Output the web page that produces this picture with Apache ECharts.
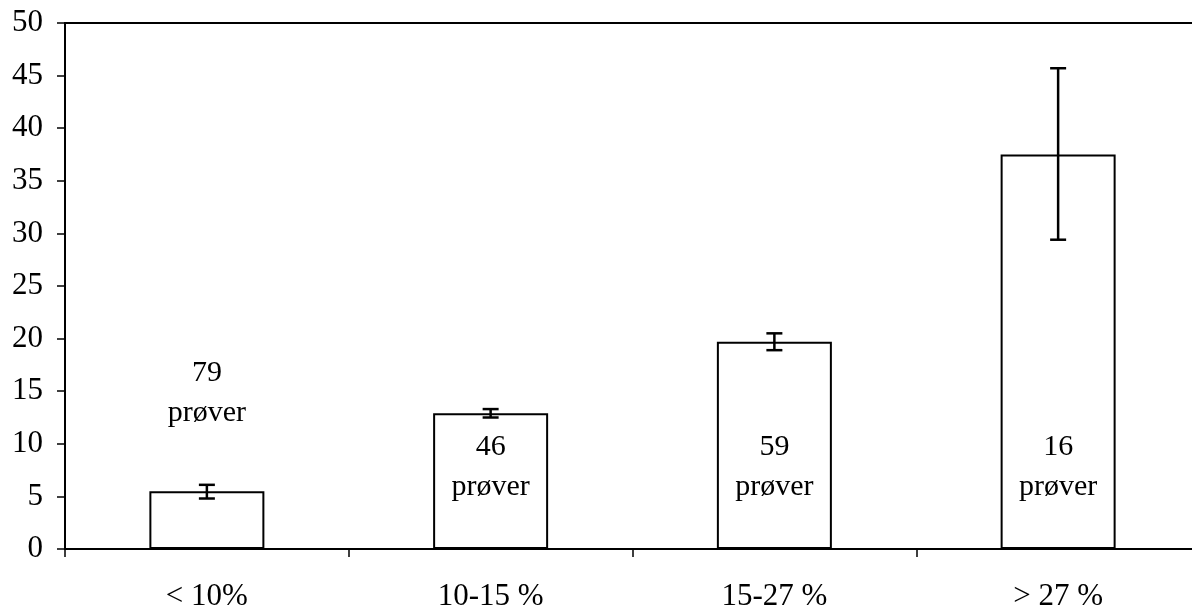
<!DOCTYPE html>
<html>
<head>
<meta charset="utf-8">
<script src="https://cdn.jsdelivr.net/npm/echarts@6/dist/echarts.min.js"></script>
<style>html,body{margin:0;padding:0;background:#fff;overflow:hidden;}#c{width:1200px;height:612px;}</style>
</head>
<body>
<div id="c"></div>
<script>
const categories = ['< 10%', '10-15 %', '15-27 %', '> 27 %'];
const values = [5.5, 12.9, 19.7, 37.5];
const errLow = [4.8, 12.5, 18.9, 29.4];
const errHigh = [6.1, 13.3, 20.5, 45.7];
const sampleCounts = [79, 46, 59, 16];
const yTicks = {min: 0, max: 50, interval: 5};

const FONT = 'Liberation Serif';
const chart = echarts.init(document.getElementById('c'));

const barData = values.map((v, i) => {
  const above = i === 0;
  return {
    value: v,
    label: {
      show: true,
      position: above ? 'top' : 'insideBottom',
      distance: above ? 58 : 42,
      formatter: sampleCounts[i] + '\nprøver',
      fontFamily: FONT,
      fontSize: 30,
      lineHeight: 40,
      color: '#000'
    }
  };
});

const errData = categories.map((c, i) => [i, errLow[i], errHigh[i]]);

chart.setOption({
  backgroundColor: '#fff',
  animation: false,
  grid: {left: 65, top: 23, right: 0, bottom: 63, show: true, borderColor: '#000', borderWidth: 2, backgroundColor: 'transparent'},
  xAxis: {
    type: 'category',
    data: categories,
    boundaryGap: true,
    axisLine: {lineStyle: {color: '#000', width: 2}},
    axisTick: {show: true, length: 8, lineStyle: {color: '#000', width: 1.5}},
    axisLabel: {fontFamily: FONT, fontSize: 31, color: '#000', margin: 32}
  },
  yAxis: {
    type: 'value',
    min: yTicks.min, max: yTicks.max, interval: yTicks.interval,
    axisLine: {show: true, lineStyle: {color: '#000', width: 2}},
    axisTick: {show: true, length: 8, lineStyle: {color: '#000', width: 1.5}},
    splitLine: {show: false},
    axisLabel: {fontFamily: FONT, fontSize: 31, color: '#000', margin: 22}
  },
  series: [
    {
      type: 'bar',
      data: barData,
      barWidth: 115,
      itemStyle: {color: '#fff', borderColor: '#000', borderWidth: 2},
      z: 2
    },
    {
      type: 'custom',
      data: errData,
      z: 5,
      renderItem: function (params, api) {
        const x = api.value(0);
        const lo = api.coord([x, api.value(1)]);
        const hi = api.coord([x, api.value(2)]);
        const hw = 8;
        const style = {stroke: '#000', lineWidth: 2.5};
        return {
          type: 'group',
          children: [
            {type: 'line', shape: {x1: lo[0], y1: lo[1], x2: hi[0], y2: hi[1]}, style: style},
            {type: 'line', shape: {x1: lo[0] - hw, y1: lo[1], x2: lo[0] + hw, y2: lo[1]}, style: style},
            {type: 'line', shape: {x1: hi[0] - hw, y1: hi[1], x2: hi[0] + hw, y2: hi[1]}, style: style}
          ]
        };
      }
    }
  ]
});
</script>
</body>
</html>
